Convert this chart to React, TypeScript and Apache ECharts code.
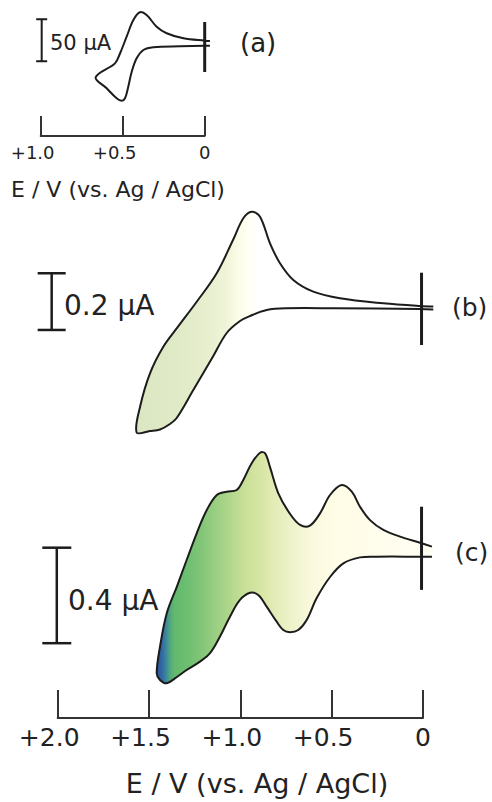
import React, { useEffect, useRef } from "react";
import * as echarts from "echarts";

// ---------- DATA (E in V vs. Ag/AgCl, I in µA) ----------
// (a) upper branch from right end to left vertex, lower branch from vertex back to right end
const upperA = [[-0.032, 3.1], [0.0, 3.5], [0.13, 6.3], [0.232, 12.3], [0.293, 20.1], [0.354, 34.0], [0.395, 37.3], [0.435, 28.1], [0.476, 8.2], [0.516, -11.5], [0.547, -23.5], [0.665, -40.1]];
const lowerA = [[0.598, -53.2], [0.537, -65.1], [0.506, -68.0], [0.486, -65.1], [0.466, -51.3], [0.445, -33.5], [0.415, -17.5], [0.374, -7.6], [0.313, -4.4], [0.151, -3.2], [0.0, -2.5], [-0.032, -2.5]];

// (b)
const upperB = [[-0.0564, 0.0018], [0.0164, 0.0035], [0.2174, 0.0131], [0.4544, 0.0307], [0.6006, 0.054], [0.7101, 0.0952], [0.7829, 0.1541], [0.8377, 0.2247], [0.8924, 0.3185], [0.9379, 0.3362], [0.9839, 0.3129], [1.0402, 0.2363], [1.1295, 0.1189], [1.2319, 0.0247], [1.3414, -0.0695], [1.4218, -0.14], [1.4947, -0.2339], [1.549, -0.3517], [1.5675, -0.4427]];
const lowerB = [[1.4947, -0.4374], [1.4399, -0.4321], [1.3852, -0.4127], [1.3485, -0.3915], [1.2576, -0.2928], [1.1481, -0.1728], [1.0747, -0.0917], [1.0019, -0.0494], [0.9472, -0.0317], [0.8557, -0.0106], [0.7462, -0.0046], [0.4911, -0.0046], [0.0164, -0.0071], [-0.0564, -0.0088]];

// (c)
const upperC = [[-0.049, 0.017], [0.016, 0.033], [0.126, 0.059], [0.217, 0.087], [0.29, 0.128], [0.345, 0.184], [0.39, 0.247], [0.445, 0.275], [0.509, 0.233], [0.564, 0.156], [0.619, 0.105], [0.673, 0.108], [0.728, 0.154], [0.792, 0.24], [0.838, 0.351], [0.865, 0.408], [0.892, 0.41], [0.938, 0.366], [0.984, 0.296], [1.02, 0.254], [1.075, 0.247], [1.129, 0.233], [1.184, 0.17], [1.239, 0.073], [1.294, -0.039], [1.348, -0.151], [1.403, -0.262], [1.44, -0.402], [1.458, -0.513]];
const lowerC = [[1.44, -0.541], [1.403, -0.555], [1.358, -0.534], [1.294, -0.499], [1.221, -0.464], [1.166, -0.429], [1.112, -0.36], [1.057, -0.276], [1.002, -0.206], [0.947, -0.176], [0.902, -0.185], [0.856, -0.234], [0.801, -0.297], [0.765, -0.332], [0.728, -0.341], [0.683, -0.332], [0.637, -0.29], [0.582, -0.198], [0.509, -0.11], [0.436, -0.053], [0.345, -0.028], [0.253, -0.025], [0.016, -0.025], [-0.049, -0.025]];

// scale bars: [E, I bottom, I top]
const scaleBarA = [[0.994, -21, 29]];
const scaleBarB = [[2.033, -0.081, 0.119]];
const scaleBarC = [[2.005, -0.387, 0.0126]];
// start-potential markers: [E, I bottom, I top]
const markerA = [[0.0, -33.8, 25.7]];
const markerB = [[0.008, -0.134, 0.121]];
const markerC = [[0.008, -0.164, 0.184]];

// texts
const scaleLabelA = "50 µA";
const scaleLabelB = "0.2 µA";
const scaleLabelC = "0.4 µA";
const panelLabels = ["(a)", "(b)", "(c)"];
const axisTitle = "E / V (vs. Ag / AgCl)";
const tickFmt = (v: number) => (Math.abs(v) < 1e-9 ? "{z|0}" : "{p|+" + v.toFixed(1) + "}");

// ---------- STYLES ----------
const FONT = "DejaVu Sans";
const INK = "#1c1c1c";
const SMOOTH = 0.35;
const stopsB: [number, string][] = [
  [1.58, "#dbe7c2"], [1.35, "#e0eac6"], [1.2, "#e6eecd"], [1.08, "#eff4d8"], [1.02, "#fafbe6"], [0.97, "#fffff2"], [0.9, "#ffffff"], [0.0, "#ffffff"],
];
const stopsC: [number, string][] = [
  [1.46, "#2a5598"], [1.43, "#3366a6"], [1.405, "#3d8a9a"], [1.385, "#52a87c"], [1.36, "#62b96e"], [1.3, "#6cbe70"], [1.22, "#80c577"], [1.15, "#96cd80"], [1.06, "#b0d78c"], [0.985, "#c6df96"], [0.88, "#d9e6a6"], [0.8, "#e4edba"], [0.71, "#eff3cc"], [0.62, "#f9f8dc"], [0.5, "#fffce6"], [0.0, "#fffef2"],
];

function curveSeries(idx: number, upper: number[][], lower: number[][], stops: [number, string][] | null) {
  const pts = upper.concat(lower);
  return {
    type: "custom",
    xAxisIndex: idx,
    yAxisIndex: idx,
    silent: true,
    data: [[0, 0]],
    renderItem: (_p: any, api: any) => {
      const px = pts.map((p) => api.coord(p));
      const children: any[] = [];
      if (stops) {
        const xs = stops.map((s) => api.coord([s[0], 0])[0]);
        const x0 = xs[0];
        const x1 = xs[xs.length - 1];
        const colorStops = stops.map((s, i) => ({ offset: (xs[i] - x0) / (x1 - x0), color: s[1] }));
        children.push({
          type: "polygon",
          shape: { points: px, smooth: SMOOTH },
          style: { fill: { type: "linear", x: x0, y: 0, x2: x1, y2: 0, global: true, colorStops }, stroke: null },
        });
      }
      children.push({
        type: "polyline",
        shape: { points: px, smooth: SMOOTH },
        style: { fill: null, stroke: INK, lineWidth: 2 },
      });
      return { type: "group", children };
    },
  };
}

function barSeries(idx: number, data: number[][], halfSerif: number, width: number) {
  return {
    type: "custom",
    xAxisIndex: idx,
    yAxisIndex: idx,
    silent: true,
    data,
    renderItem: (_p: any, api: any) => {
      const b = api.coord([api.value(0), api.value(1)]);
      const t = api.coord([api.value(0), api.value(2)]);
      const st = { stroke: INK, lineWidth: width };
      const children: any[] = [{ type: "line", shape: { x1: b[0], y1: b[1], x2: t[0], y2: t[1] }, style: st }];
      if (halfSerif > 0) {
        children.push({ type: "line", shape: { x1: b[0] - halfSerif, y1: b[1], x2: b[0] + halfSerif, y2: b[1] }, style: st });
        children.push({ type: "line", shape: { x1: t[0] - halfSerif, y1: t[1], x2: t[0] + halfSerif, y2: t[1] }, style: st });
      }
      return { type: "group", children };
    },
  };
}

function xAxisVisible(gridIndex: number, max: number, tickLen: number, fontSize: number, pad: number) {
  return {
    type: "value",
    gridIndex,
    min: 0,
    max,
    interval: 0.5,
    inverse: true,
    splitLine: { show: false },
    axisLine: { show: true, onZero: false, lineStyle: { color: "#333", width: 2 } },
    axisTick: { show: true, inside: true, length: tickLen, lineStyle: { color: "#333", width: 2 } },
    axisLabel: {
      show: true,
      margin: 7,
      formatter: tickFmt,
      rich: {
        p: { fontSize, fontFamily: FONT, color: "#222", padding: [0, pad, 0, 0] },
        z: { fontSize, fontFamily: FONT, color: "#222" },
      },
    },
  };
}

function text(t: string, x: number, y: number, fontSize: number, align: string) {
  return {
    type: "text",
    x,
    y,
    silent: true,
    style: { text: t, fontSize, fontFamily: FONT, fill: "#222", align, verticalAlign: "middle" },
  };
}

export default function App() {
  const ref = useRef<HTMLDivElement>(null);
  useEffect(() => {
    if (!ref.current) return;
    const chart = echarts.init(ref.current, null, { renderer: "svg" });
    chart.setOption({
      animation: false,
      backgroundColor: "#ffffff",
      textStyle: { fontFamily: FONT },
      grid: [
        { left: 40.7, width: 164, top: 10, height: 126 },
        { left: 57.7, width: 365.3, top: 193.6, height: 255.15 },
        { left: 57.7, width: 365.3, top: 431.2, height: 286.8 },
      ],
      xAxis: [
        xAxisVisible(0, 1, 20, 18, 16),
        { type: "value", gridIndex: 1, min: 0, max: 2, inverse: true, show: false },
        xAxisVisible(2, 2, 28, 25, 17),
      ],
      yAxis: [
        { type: "value", gridIndex: 0, min: -110, max: 40, show: false },
        { type: "value", gridIndex: 1, min: -0.5, max: 0.4, show: false },
        { type: "value", gridIndex: 2, min: -0.7, max: 0.5, show: false },
      ],
      graphic: [
        text(scaleLabelA, 50, 43, 21, "left"),
        text(panelLabels[0], 240, 43, 26, "left"),
        text(axisTitle, 118, 189, 22, "center"),
        text(scaleLabelB, 64, 305, 28, "left"),
        text(panelLabels[1], 452, 307, 25, "left"),
        text(scaleLabelC, 68, 600, 28, "left"),
        text(panelLabels[2], 455, 552, 25, "left"),
        text(axisTitle, 257, 783, 27, "center"),
      ],
      series: [
        curveSeries(0, upperA, lowerA, null),
        curveSeries(1, upperB, lowerB, stopsB),
        curveSeries(2, upperC, lowerC, stopsC),
        barSeries(0, scaleBarA, 5.5, 2),
        barSeries(1, scaleBarB, 14, 2.5),
        barSeries(2, scaleBarC, 14.5, 2.5),
        barSeries(0, markerA, 0, 3),
        barSeries(1, markerB, 0, 3),
        barSeries(2, markerC, 0, 3),
      ],
    });
    return () => chart.dispose();
  }, []);
  return <div ref={ref} style={{ position: "absolute", left: 0, top: 0, width: 492, height: 802 }} />;
}
